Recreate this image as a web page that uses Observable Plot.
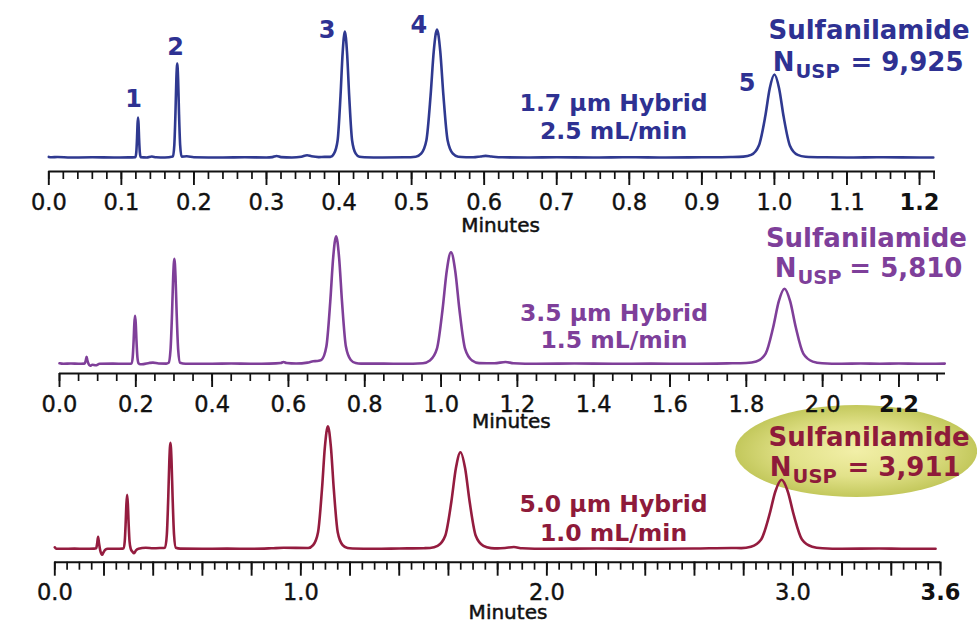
<!DOCTYPE html>
<html><head><meta charset="utf-8">
<script src="https://cdn.jsdelivr.net/npm/d3@7"></script>
<script src="https://cdn.jsdelivr.net/npm/@observablehq/plot@0.6"></script>
<style>
html,body{margin:0;padding:0;background:#fff;}
#chart{position:relative;width:977px;height:622px;overflow:hidden;background:#fff;}
#chart svg{position:absolute;left:0;}
</style></head><body><div id="chart"></div>
<script>
// ---- Data: [minutes, detector signal] ----
const trace17 = [[0.000,0.6],[0.004,0.2],[0.012,0.5],[0.03,0],[0.06,0.2],[0.09,0],[0.110,0.1],
[0.1194,0.4],[0.1206,5.4],[0.1216,19.5],[0.1223,33.4],[0.1230,40],[0.1237,33.4],[0.1244,19.5],[0.1254,5.4],[0.1266,0.4],
[0.135,0],[0.142,1.0],[0.148,0.2],[0.160,0],
[0.171,0.9],[0.173,12.7],[0.1746,45.8],[0.1758,78.5],[0.177,94],[0.1782,78.5],[0.1794,45.8],[0.181,12.7],[0.183,0.9],
[0.19,1.2],[0.20,0.3],[0.24,0],[0.27,0.3],[0.30,0],[0.308,0.4],[0.314,1.5],[0.320,0.4],[0.335,0],[0.348,0.8],[0.356,2.2],[0.362,1.2],[0.372,0.4],[0.38,0.6],
[0.388,0.6],[0.393,3.8],[0.398,17],[0.402,61.4],[0.405,105.2],[0.408,126],[0.411,105.2],[0.414,61.4],[0.418,17],[0.423,3.8],[0.428,0.8],
[0.435,0.3],[0.46,0],[0.49,0.2],
[0.5058,0.8],[0.5131,3.8],[0.5204,17.3],[0.5262,62.3],[0.5306,106.9],[0.535,128],[0.5394,106.9],[0.5438,62.3],[0.5496,17.3],[0.5569,3.8],[0.5642,0.8],
[0.575,0.3],[0.585,0.2],[0.595,1.0],[0.602,1.6],[0.610,1.0],[0.625,0.2],[0.66,0],[0.70,0.3],[0.75,0],[0.80,0.2],[0.85,0],[0.90,0.2],[0.94,0.5],
[0.9572,0.9],[0.9679,2.6],[0.9786,12],[0.9872,40.4],[0.9936,69.3],[1.0,83],[1.0064,69.3],[1.0128,40.4],[1.0214,11.8],[1.0321,2.6],[1.0428,0.8],
[1.07,0.2],[1.10,0],[1.15,0.2],[1.20,0],[1.219,0]];

const trace35 = [[0.000,0.5],[0.01,0],[0.03,0.3],[0.05,0],[0.064,0.2],
[0.066,0.3],[0.069,3.5],[0.071,7],[0.073,3.5],[0.076,0],[0.080,-2],[0.086,-1],[0.095,-1.5],[0.105,0],
[0.14,0.2],[0.17,0],[0.185,0.1],
[0.1887,0.5],[0.1918,6.5],[0.1943,23.4],[0.1961,40.1],[0.198,48],[0.1999,40.1],[0.2017,23.4],[0.2042,6.5],[0.2073,0.5],
[0.212,-0.5],[0.22,-0.3],[0.235,0.8],[0.245,1.2],[0.26,0.3],[0.28,0.2],
[0.286,1],[0.291,14.2],[0.295,51.1],[0.298,87.7],[0.301,105],[0.304,87.7],[0.307,51.1],[0.311,14.2],[0.316,1],
[0.33,0],[0.40,0],[0.45,0.3],[0.50,0],[0.55,0.2],[0.58,0.8],[0.587,1.8],[0.595,0.8],[0.62,0.3],[0.65,1.2],[0.665,2.5],[0.675,2.8],
[0.6866,4],[0.6994,17.2],[0.7096,62.1],[0.7173,106.5],[0.725,127.6],[0.7327,106.5],[0.7404,62.1],[0.7506,17.2],[0.7634,3.8],[0.7762,0.8],
[0.79,0.2],[0.85,0.2],[0.90,0],
[0.9524,0.6],[0.9708,3.3],[0.9892,15.1],[1.0039,54.3],[1.015,93.2],[1.026,111.6],[1.037,93.2],[1.0481,54.3],[1.0628,15.1],[1.0812,3.3],[1.0996,0.7],
[1.14,0.5],[1.169,1.8],[1.19,0.6],[1.25,0],[1.35,0.3],[1.45,0],[1.55,0.2],[1.65,0],[1.75,0.4],[1.80,0.8],
[1.8259,2.2],[1.8506,10.1],[1.8704,36.5],[1.8852,62.6],[1.900,75],[1.9148,62.6],[1.9296,36.5],[1.9494,10.1],[1.9741,2.2],[1.9988,0.5],
[2.05,0],[2.10,0.3],[2.15,0],[2.2,0.3],[2.25,0],[2.32,0.2]];

const trace50 = [[0.000,1.5],[0.006,0],[0.03,0],[0.08,0.2],[0.12,0],[0.16,0.2],
[0.168,0.5],[0.172,5],[0.176,12],[0.180,5],[0.185,-2],[0.192,-6],[0.198,-3.5],[0.205,-1],[0.215,0],
[0.25,0],[0.275,0.2],
[0.2793,0.5],[0.2842,7.3],[0.2881,26.3],[0.2911,45.1],[0.294,54],[0.2969,45.1],[0.2999,26.3],[0.3038,7.3],[0.3087,0],
[0.316,-3],[0.322,-4.5],[0.330,-1.5],[0.34,0],[0.37,1],[0.40,0.5],[0.43,0.8],
[0.4481,1.1],[0.4554,14.3],[0.4612,51.6],[0.4656,88.5],[0.470,106],[0.4744,88.5],[0.4788,51.6],[0.4846,14.3],[0.4919,1.1],
[0.51,0.2],[0.60,0],[0.70,0.2],[0.80,0],[0.88,0.5],[0.93,1],
[1.03,0.8],[1.050,3.7],[1.070,16.6],[1.086,59.7],[1.098,102.4],[1.110,122.6],[1.122,102.4],[1.134,59.7],[1.150,16.6],[1.170,3.7],[1.19,0.8],
[1.21,0.3],[1.30,0],[1.40,0.3],[1.50,0.6],
[1.525,0.8],[1.556,2.9],[1.587,13],[1.6118,47],[1.6304,80.7],[1.649,96.6],[1.6676,80.7],[1.6862,47],[1.711,13],[1.742,2.9],[1.773,0.7],
[1.80,0.4],[1.83,0.8],[1.866,1.8],[1.90,0.5],[2.0,0],[2.2,0.3],[2.4,0],[2.6,0.3],[2.75,0.8],
[2.79,0.7],[2.8295,2.1],[2.871,9.3],[2.9042,33.6],[2.9291,57.6],[2.954,69],[2.9789,57.6],[3.0038,33.6],[3.037,9.3],[3.0785,2.1],[3.12,0.6],
[3.2,0],[3.35,0.3],[3.45,0],[3.58,0]];

const peakNumbers = ["1","2","3","4","5"];
const columns = ["1.7 µm Hybrid","3.5 µm Hybrid","5.0 µm Hybrid"];
const flows = ["2.5 mL/min","1.5 mL/min","1.0 mL/min"];
const compound = "Sulfanilamide";
const plateCounts = ["9,925","5,810","3,911"];
const tickLabels17 = ["0.0","0.1","0.2","0.3","0.4","0.5","0.6","0.7","0.8","0.9","1.0","1.1"];
const lastLabel17 = "1.2";
const tickLabels35 = ["0.0","0.2","0.4","0.6","0.8","1.0","1.2","1.4","1.6","1.8","2.0"];
const lastLabel35 = "2.2";
const tickLabels50 = ["0.0","1.0","2.0","3.0"];
const lastLabel50 = "3.6";
const axisTitle = "Minutes";

const FONT = "DejaVu Sans, Verdana, sans-serif";
const chart = document.getElementById("chart");

function panel(o) {
  const ink = "#111";
  const marks = [];
  if (o.before) marks.push(o.before);
  marks.push(
    Plot.ruleY([o.yMin], {x1: 0, x2: o.xMax, stroke: ink, strokeWidth: 2}),
    Plot.axisX({ticks: o.minor, tickSize: 8, tickFormat: () => "", label: null, stroke: ink, strokeWidth: 1.7}),
    Plot.axisX({ticks: o.major, tickSize: 14, tickFormat: () => "", label: null, stroke: ink, strokeWidth: 1.9}),
    Plot.line(o.trace, {x: d => d[0], y: d => d[1], stroke: o.lineColor, strokeWidth: 2.6, curve: "monotone-x"}),
    Plot.text(o.labels, {x: d => +d, text: d => d, frameAnchor: "bottom", lineAnchor: "bottom", dy: o.labelDy, fontSize: 22.5, fontFamily: FONT, fill: ink, stroke: ink, strokeWidth: 0.4}),
    Plot.text([o.last], {x: d => +d, text: d => d, frameAnchor: "bottom", lineAnchor: "bottom", dy: o.labelDy, fontSize: 22.5, fontWeight: "bold", fontFamily: FONT, fill: ink}),
    Plot.text([axisTitle], {x: o.minutesX, frameAnchor: "bottom", lineAnchor: "bottom", dy: o.minutesDy, fontSize: 20, fontFamily: FONT, fill: ink, stroke: ink, strokeWidth: 0.5}),
    Plot.text([columns[o.k]], {x: o.colX, y: o.colY, lineAnchor: "bottom", fontSize: 23.5, fontWeight: "bold", fontFamily: FONT, fill: o.textColor}),
    Plot.text([flows[o.k]], {x: o.colX, y: o.flowY, lineAnchor: "bottom", fontSize: 23.5, fontWeight: "bold", fontFamily: FONT, fill: o.textColor}),
    Plot.text([compound], {x: o.nameX, y: o.nameY, lineAnchor: "bottom", fontSize: 26, fontWeight: "bold", fontFamily: FONT, fill: o.textColor}),
    Plot.text(["N"], {x: o.uspX, y: o.nY, dx: -1, textAnchor: "end", lineAnchor: "bottom", fontSize: 26, fontWeight: "bold", fontFamily: FONT, fill: o.textColor}),
    Plot.text(["USP"], {x: o.uspX, y: o.nY - 7, textAnchor: "start", lineAnchor: "bottom", fontSize: 19.5, fontWeight: "bold", fontFamily: FONT, fill: o.textColor}),
    Plot.text(["= " + plateCounts[o.k]], {x: o.eqX, y: o.nY, textAnchor: "end", lineAnchor: "bottom", fontSize: 26, fontWeight: "bold", fontFamily: FONT, fill: o.textColor})
  );
  if (o.after) marks.push(...o.after);
  const svg = Plot.plot({
    width: 977, height: o.height,
    marginTop: 0, marginBottom: o.height - o.frameBottom,
    marginLeft: o.marginLeft, marginRight: o.marginRight,
    x: {domain: [0, o.xMax]},
    y: {domain: [o.yMin, o.yMax], axis: null},
    style: {background: "transparent", overflow: "visible"},
    marks
  });
  svg.style.top = o.top + "px";
  svg.style.zIndex = o.z;
  chart.appendChild(svg);
}

// Panel 1: 1.7 µm
const blue = "#2e3192";
panel({
  k: 0, z: 3, top: 0, height: 232, frameBottom: 171, marginLeft: 48.3, marginRight: 42,
  xMax: 1.222, yMin: -14, yMax: 157, trace: trace17, lineColor: "#2f3990", textColor: blue,
  minor: d3.range(0, 62).map(i => i * 0.02), major: d3.range(0, 13).map(i => i * 0.1),
  labels: tickLabels17, last: lastLabel17, labelDy: 38, minutesX: 0.6225, minutesDy: 60,
  colX: 0.7783, colY: 47, flowY: 18.7, nameX: 1.1304, nameY: 118.7, uspX: 1.0291, eqX: 1.2606, nY: 87,
  after: [Plot.text(peakNumbers, {
    x: (d, i) => [0.1167, 0.1746, 0.3837, 0.5099, 0.9625][i],
    y: (d, i) => [51, 103, 120, 124.5, 66.3][i],
    lineAnchor: "bottom", fontSize: 24, fontWeight: "bold", fontFamily: FONT, fill: blue})]
});

// Panel 2: 3.5 µm
panel({
  k: 1, z: 2, top: 220, height: 212, frameBottom: 153, marginLeft: 59, marginRight: 32,
  xMax: 2.322, yMin: -9.7, yMax: 143.3, trace: trace35, lineColor: "#7f3f99", textColor: "#7e3f9a",
  minor: d3.range(0, 47).map(i => i * 0.05), major: d3.range(0, 12).map(i => i * 0.2),
  labels: tickLabels35, last: lastLabel35, labelDy: 38.7, minutesX: 1.184, minutesDy: 54,
  colX: 1.4531, colY: 43.3, flowY: 15.6, nameX: 2.1148, nameY: 116.6, uspX: 1.934, eqX: 2.3664, nY: 86.6
});

// Panel 3: 5.0 µm (highlighted plate count)
const glow = (index, scales) => {
  const {x, y} = scales;
  const g = d3.create("svg:g");
  const grad = g.append("defs").append("radialGradient").attr("id", "sulfa-glow");
  grad.append("stop").attr("offset", "0%").attr("stop-color", "#f2efa8");
  grad.append("stop").attr("offset", "55%").attr("stop-color", "#e2e28a");
  grad.append("stop").attr("offset", "100%").attr("stop-color", "#c3c85c");
  g.append("ellipse")
    .attr("cx", x(3.259)).attr("cy", y(97.3))
    .attr("rx", x(3.259 + 0.492) - x(3.259)).attr("ry", y(97.3 - 46) - y(97.3))
    .attr("fill", "url(#sulfa-glow)");
  return g.node();
};
panel({
  k: 2, z: 1, top: 400, height: 222, frameBottom: 161.7, marginLeft: 54.3, marginRight: 37,
  xMax: 3.6, yMin: -13.4, yMax: 148.3, trace: trace50, lineColor: "#941c3f", textColor: "#8e1a3a",
  minor: d3.range(0, 73).map(i => i * 0.05), major: d3.range(0, 19).map(i => i * 0.2),
  labels: tickLabels50, last: lastLabel50, labelDy: 37.6, minutesX: 1.842, minutesDy: 56.5,
  colX: 2.2711, colY: 36.6, flowY: 7.6, nameX: 3.3098, nameY: 103.3, uspX: 2.9988, eqX: 3.6817, nY: 73.3,
  before: glow
});
</script></body></html>
